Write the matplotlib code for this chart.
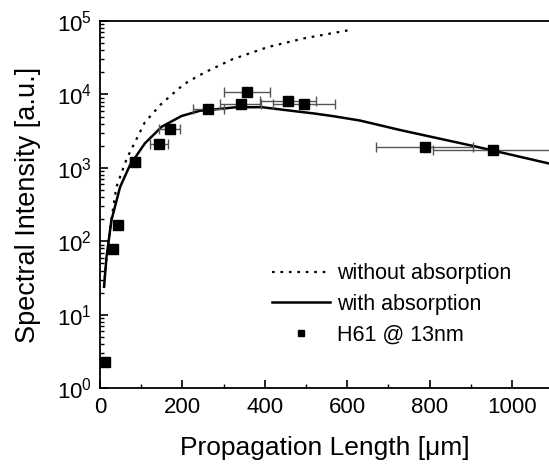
import matplotlib
matplotlib.use("Agg")
import matplotlib.pyplot as plt
import numpy as np
from matplotlib.ticker import LogLocator, NullFormatter, MultipleLocator

plt.rcParams['font.family'] = ['Liberation Sans', 'DejaVu Sans']
plt.rcParams['mathtext.fontset'] = 'custom'
plt.rcParams['mathtext.rm'] = 'Liberation Sans'
plt.rcParams['mathtext.it'] = 'Liberation Sans'

# measured data: H61 @ 13nm
meas_x = [12, 32, 43, 85, 144, 169, 263, 342, 357, 456, 496, 788, 953]
meas_y = [2.24, 78, 168, 1210, 2090, 3410, 6270, 7330, 10800, 8130, 7470, 1920, 1730]
meas_xerr = [5, 8, 8, 13, 22, 26, 38, 50, 55, 68, 75, 118, 145]

# model curves
noabs_x = [10, 16, 28, 40, 65, 109, 148, 192, 213, 255, 321, 408, 496, 607]
noabs_y = [24, 62, 200, 550, 1330, 4170, 7330, 12100, 14800, 20000, 30000, 44200, 58100, 75400]

abs_x = [10, 16, 28, 49, 73, 109, 150, 198, 243, 263, 328, 393, 474, 520, 567, 632, 729, 907, 1089]
abs_y = [24, 61, 194, 550, 1090, 2150, 3630, 5080, 6000, 6130, 6670, 6700, 5900, 5500, 5050, 4400, 3270, 1980, 1150]

fig = plt.figure(figsize=(5.49, 4.66), dpi=100)
ax = fig.add_axes([0.182, 0.167, 0.818, 0.788])

ax.plot(noabs_x, noabs_y, linestyle=(0, (1.2, 2.6)), color='black', lw=1.6,
        label='without absorption')
ax.plot(abs_x, abs_y, '-', color='black', lw=1.8, label='with absorption')

my = np.array(meas_y)
ax.errorbar(meas_x, meas_y, xerr=meas_xerr, yerr=[my * 0.09, my * 0.1],
            fmt='none', ecolor='#555555', elinewidth=1, capsize=3.5, capthick=1)
ax.plot(meas_x, meas_y, 's', color='black', markersize=7, linestyle='none',
        label='H61 @ 13nm')

ax.set_yscale('log')
ax.set_xlim(0, 1090)
ax.set_ylim(1, 1e5)

ax.xaxis.set_major_locator(MultipleLocator(200))
ax.xaxis.set_minor_locator(MultipleLocator(100))
ax.yaxis.set_minor_locator(LogLocator(base=10, subs=np.arange(2, 10), numticks=100))
ax.yaxis.set_minor_formatter(NullFormatter())
ax.set_yticks([1, 10, 100, 1000, 1e4, 1e5])
ax.set_yticklabels([r'$10^{0}$', r'$10^{1}$', r'$10^{2}$', r'$10^{3}$', r'$10^{4}$', r'$10^{5}$'])

ax.tick_params(which='both', direction='in', top=False, right=False)
ax.tick_params(which='major', length=6, width=1.2, labelsize=16, pad=6)
ax.tick_params(which='minor', length=3, width=1)
ax.spines['right'].set_visible(False)
for s in ['left', 'bottom', 'top']:
    ax.spines[s].set_linewidth(1.3)

ax.set_xlabel('Propagation Length [\u03bcm]', fontsize=19, labelpad=13)
ax.set_ylabel('Spectral Intensity [a.u.]', fontsize=19.5, labelpad=11)

leg = ax.legend(loc='lower right', bbox_to_anchor=(0.96, 0.063), frameon=False,
                fontsize=15.5, handlelength=2.7, handletextpad=0.35,
                labelspacing=0.45, markerscale=0.7)

fig.savefig('out.png', dpi=100)
